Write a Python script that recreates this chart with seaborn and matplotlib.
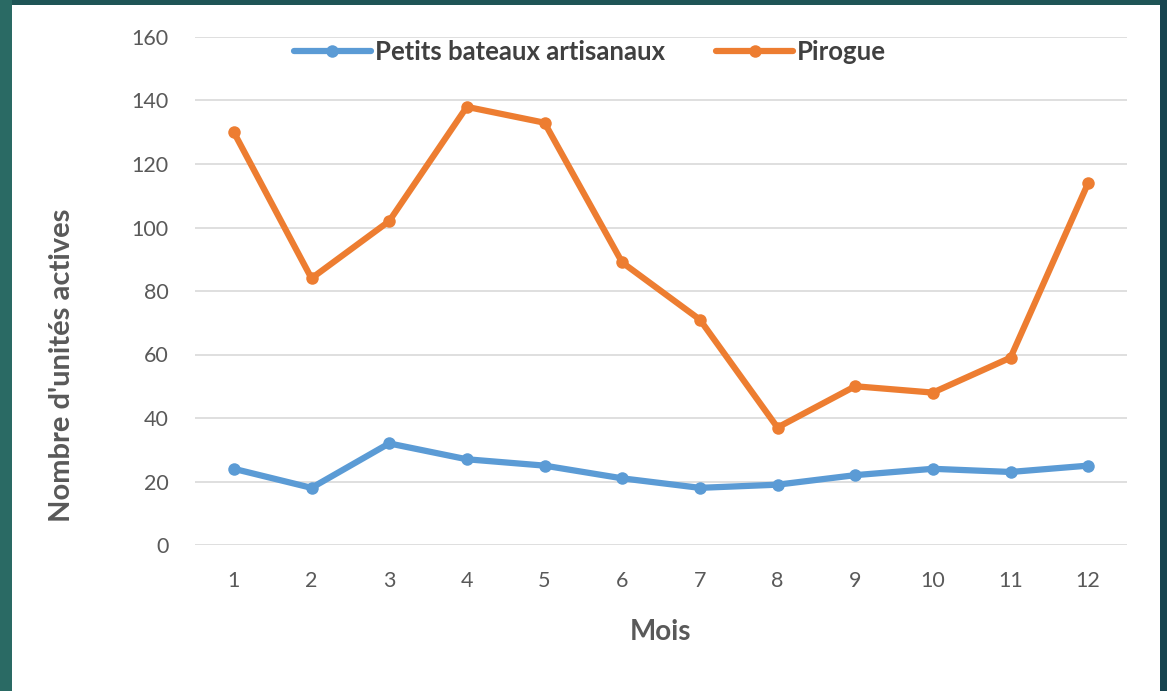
import matplotlib
matplotlib.use("Agg")
import matplotlib.pyplot as plt
import seaborn as sns
import pandas as pd
from matplotlib.patches import Rectangle

mois = [1, 2, 3, 4, 5, 6, 7, 8, 9, 10, 11, 12]
petits_bateaux = [24, 18, 32, 27, 25, 21, 18, 19, 22, 24, 23, 25]
pirogue = [130, 84, 102, 138, 133, 89, 71, 37, 50, 48, 59, 114]
series_names = ["Petits bateaux artisanaux", "Pirogue"]
y_ticks = [0, 20, 40, 60, 80, 100, 120, 140, 160]

df = pd.DataFrame({
    "Mois": mois * 2,
    "Valeur": petits_bateaux + pirogue,
    "Série": [series_names[0]] * len(mois) + [series_names[1]] * len(mois),
})

sns.set_theme(style="white")
plt.rcParams['font.family'] = ['Lato', 'DejaVu Sans']

fig = plt.figure(figsize=(11.67, 6.91), dpi=100)
fig.patch.set_facecolor("#2a6a64")
# white slide area inside teal frame
fig.patches.append(Rectangle((12/1167, 0), (1160-12)/1167, (691-5)/691,
                             transform=fig.transFigure, facecolor="white",
                             edgecolor="none", zorder=-5))
fig.patches.append(Rectangle((1160/1167, 0), 7/1167, 1,
                             transform=fig.transFigure, facecolor="#174450",
                             edgecolor="none", zorder=-5))
fig.patches.append(Rectangle((12/1167, 686/691), 1148/1167, 5/691,
                             transform=fig.transFigure, facecolor="#1f5556",
                             edgecolor="none", zorder=-5))

ax = fig.add_axes([195/1167, 1-545/691, (1127-195)/1167, (545-37)/691])
ax.set_facecolor("none")
ax.set_zorder(2)

palette = {series_names[0]: "#5b9bd5", series_names[1]: "#ed7d31"}
sns.lineplot(data=df, x="Mois", y="Valeur", hue="Série", palette=palette,
             marker="o", markersize=9, markeredgewidth=0, linewidth=4.5,
             ax=ax, zorder=3)

ax.set_xlim(0.5, 12.5)
ax.set_ylim(0, 160)
ax.set_yticks(y_ticks)
ax.set_xticks(mois)
ax.set_xticklabels([str(m) for m in mois])
ax.yaxis.grid(True, color="#d9d9d9", linewidth=1.2)
ax.xaxis.grid(False)
for s in ax.spines.values():
    s.set_visible(False)
ax.tick_params(axis="both", length=0, labelsize=15.5, labelcolor="#595959")
ax.tick_params(axis="y", pad=19)
ax.tick_params(axis="x", pad=19)

ax.set_xlabel("Mois", fontsize=20, fontweight="bold", color="#595959", labelpad=20)
ax.set_ylabel("")
fig.text(62/1167, 1-365/691, "Nombre d'unités actives", rotation=90,
         fontsize=21, fontweight="bold", color="#595959", ha="center", va="center")

leg = ax.legend(loc="center", bbox_to_anchor=(590/1167, 1-52/691),
                bbox_transform=fig.transFigure, ncol=2, frameon=False,
                fontsize=18.5, handlelength=3.0, columnspacing=2.0, handletextpad=0.15)
for t in leg.get_texts():
    t.set_color("#404040")
    t.set_fontweight("bold")

fig.savefig("out.png", dpi=100, facecolor=fig.get_facecolor())
